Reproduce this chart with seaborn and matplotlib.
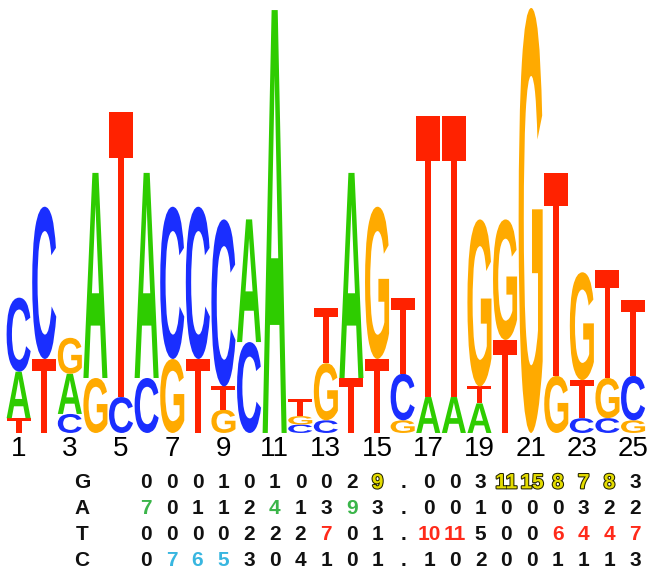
import matplotlib
matplotlib.use("Agg")
import matplotlib.pyplot as plt
import matplotlib.patheffects as pe
import seaborn as sns
from matplotlib.textpath import TextPath
from matplotlib.patches import PathPatch
from matplotlib.font_manager import FontProperties
from matplotlib.transforms import Affine2D

# --- logo data: letters stacked bottom -> top, heights in bits ---
positions = list(range(1, 26))
stack_letters = [
    "TAC", "TC", "CAG", "GA", "CT", "CA", "GC", "TC", "GTC", "CA",
    "A", "CGT", "CGT", "TA", "TG", "GCT", "AT", "AT", "ATG", "TG",
    "G", "GT", "CTG", "CGT", "GCT",
]
stack_heights = [
    [0.07, 0.22, 0.35], [0.35, 0.72], [0.09, 0.19, 0.17], [0.26, 0.97],
    [0.17, 1.35], [0.26, 0.97], [0.35, 0.72], [0.35, 0.72],
    [0.11, 0.11, 0.79], [0.43, 0.58], [2.00], [0.04, 0.04, 0.08],
    [0.06, 0.27, 0.26], [0.26, 0.97], [0.35, 0.72], [0.06, 0.22, 0.36],
    [0.17, 1.33], [0.17, 1.33], [0.14, 0.08, 0.79], [0.44, 0.57],
    [2.01], [0.27, 0.96], [0.07, 0.18, 0.51], [0.07, 0.19, 0.51],
    [0.06, 0.21, 0.36],
]
tick_positions = list(range(1, 26, 2))

letter_colors = {"A": "#2ecc00", "C": "#1a2eff", "G": "#ffaa00", "T": "#ff2200"}

# --- count table ---
table_rows = ["G", "A", "T", "C"]
g_counts = ["0", "0", "0", "1", "0", "1", "0", "0", "2", "9", ".", "0", "0", "3", "11", "15", "8", "7", "8", "3"]
a_counts = ["7", "0", "1", "1", "2", "4", "1", "3", "9", "3", ".", "0", "0", "1", "0", "0", "0", "3", "2", "2"]
t_counts = ["0", "0", "0", "0", "2", "2", "2", "7", "0", "1", ".", "10", "11", "5", "0", "0", "6", "4", "4", "7"]
c_counts = ["0", "7", "6", "5", "3", "0", "4", "1", "0", "1", ".", "1", "0", "2", "0", "0", "1", "1", "1", "3"]
g_marked = [9, 14, 15, 16, 17, 18]
a_marked = [0, 5, 8]
t_marked = [7, 11, 12, 16, 17, 18, 19]
c_marked = [1, 2, 3]

table_counts = [g_counts, a_counts, t_counts, c_counts]
table_marked = [g_marked, a_marked, t_marked, c_marked]
mark_colors = ["#e4dc00", "#3bb54a", "#ff2a1a", "#38b6e0"]

sns.set_theme(style="white")
plt.rcParams["font.family"] = ["Liberation Sans", "DejaVu Sans"]

glyph_font = FontProperties(family="Liberation Sans", weight="bold")


def draw_letter(ax, letter, x, y0, h, width=0.94):
    path = TextPath((0, 0), letter, size=1, prop=glyph_font)
    bb = path.get_extents()
    tr = (Affine2D()
          .translate(-bb.x0, -bb.y0)
          .scale(width / bb.width, h / bb.height)
          .translate(x - width / 2, y0))
    ax.add_patch(PathPatch(tr.transform_path(path), fc=letter_colors[letter], lw=0))


fig = plt.figure(figsize=(6.48, 5.75), dpi=100)

ax = fig.add_axes([0.009, 0.247, 0.9877, 0.7443])
for pos, letters, heights in zip(positions, stack_letters, stack_heights):
    base = 0.0
    for letter, h in zip(letters, heights):
        draw_letter(ax, letter, pos, base, h)
        base += h
ax.set_xlim(0.5, 25.5)
ax.set_ylim(0, 2.024)
ax.set_xticks(tick_positions)
ax.set_xticklabels([str(p) for p in tick_positions], fontsize=20, color="black")
ax.set_yticks([])
ax.tick_params(axis="x", length=0, pad=2)
sns.despine(ax=ax, left=True, bottom=True)

# table, column index -> x, row index -> y
axt = fig.add_axes([0, 0, 1, 105 / 575])
axt.set_xlim(-5.67, 19.5)
axt.set_ylim(3.58, -0.5)
axt.axis("off")
for r, (name, counts, marked) in enumerate(zip(table_rows, table_counts, table_marked)):
    axt.text(-2.49, r, name, ha="center", va="center", fontsize=15,
             fontweight="bold", color="#111111")
    for i, val in enumerate(counts):
        if i in marked:
            color = mark_colors[r]
            effects = [pe.withStroke(linewidth=1.5, foreground="#222200")] if name == "G" else None
        else:
            color = "#111111"
            effects = None
        axt.text(i, r, val, ha="center", va="center", fontsize=15,
                 fontweight="bold", color=color, path_effects=effects)

fig.savefig("out.png", dpi=100)
